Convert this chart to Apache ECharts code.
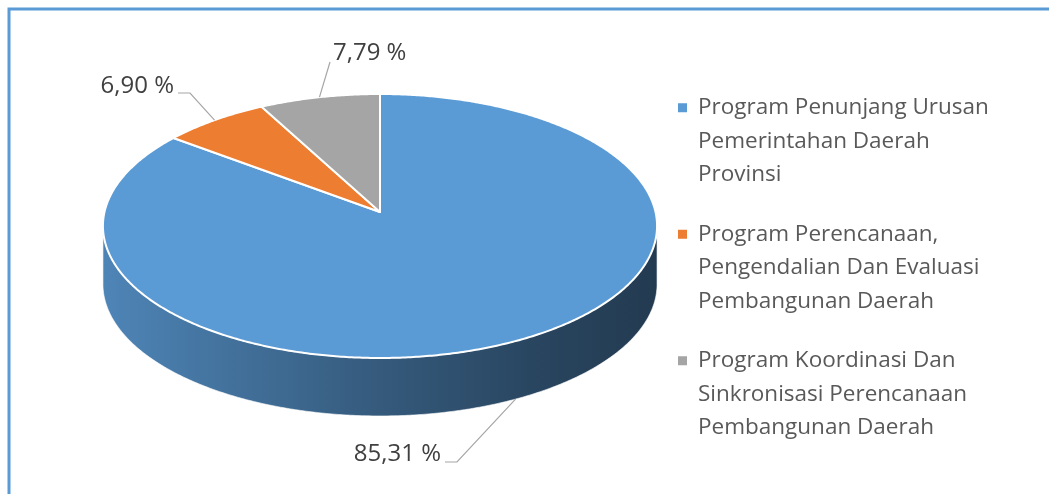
<!DOCTYPE html>
<html><head><meta charset="utf-8">
<script src="https://cdn.jsdelivr.net/npm/echarts/dist/echarts.min.js"></script>
<style>html,body{margin:0;padding:0;background:#fff}#c{width:1049px;height:494px}</style>
</head><body><div id="c"></div>
<script>
// ---- data ----
const categories = [
  'Program Penunjang Urusan\nPemerintahan Daerah\nProvinsi',
  'Program Perencanaan,\nPengendalian Dan Evaluasi\nPembangunan Daerah',
  'Program Koordinasi Dan\nSinkronisasi Perencanaan\nPembangunan Daerah'
];
const values = [85.31, 6.90, 7.79];

// ---- style / layout ----
const colors = ['#5b9bd5', '#ed7d31', '#a5a5a5'];
// perspective pie: centre, half-width, half-depth, perspective factor, wall height
const PIE = {cx: 380, cy: 212, A: 275.5, B: 130.5, k: 0.106, depth: 58};
const labelLayout = [
  {elbow: [457, 462], end: [445, 462], text: [441, 454], align: 'right'},
  {elbow: [190, 93],  end: [178, 93],  text: [174, 86],  align: 'right'},
  {elbow: null,       end: [330, 62],  text: [333, 53],  align: 'left'}
];
const FONT = 'Open Sans';

const total = values.reduce((a, b) => a + b, 0);
const starts = []; let acc = 0; values.forEach(v => { starts.push(acc); acc += v; });

function pt(t, dy) {
  const x = Math.cos(t), y = Math.sin(t), w = 1 + PIE.k * y;
  return [PIE.cx + PIE.A * x / w, PIE.cy - PIE.B * y / w + (dy || 0)];
}
function arc(t1, t2, dy) {
  const n = Math.max(2, Math.ceil(Math.abs(t2 - t1) / (Math.PI / 360)));
  const out = [];
  for (let i = 0; i <= n; i++) out.push(pt(t1 + (t2 - t1) * i / n, dy));
  return out;
}
function shade(hex, k) {
  const c = echarts.color.parse(hex);
  return 'rgb(' + [0, 1, 2].map(i => Math.round(c[i] * (1 - k))).join(',') + ')';
}
function fmt(v) { return v.toFixed(2).replace('.', ',') + ' %'; }

function makeRender(idx) {
  return function (params, api) {
    const v = api.value(0);
    const t1 = Math.PI / 2 - 2 * Math.PI * starts[idx] / total;
    const t2 = t1 - 2 * Math.PI * v / total;
    const color = colors[idx];
    const children = [];
    const a = Math.asin(PIE.k);
    // side wall (visible front part only)
    for (let k = -2; k <= 1; k++) {
      const lo = Math.max(t2, -Math.PI + a + 2 * Math.PI * k);
      const hi = Math.min(t1, -a + 2 * Math.PI * k);
      if (lo < hi) {
        const pts = arc(lo, hi, 0).concat(arc(hi, lo, PIE.depth));
        children.push({
          type: 'polygon', shape: {points: pts},
          style: {
            fill: new echarts.graphic.LinearGradient(0, 0, 1, 0, [
              {offset: 0, color: shade(color, 0.14)},
              {offset: 0.5, color: shade(color, 0.42)},
              {offset: 0.8, color: shade(color, 0.56)},
              {offset: 1, color: shade(color, 0.62)}
            ]),
            stroke: 'rgba(255,255,255,0.6)', lineWidth: 1
          }
        });
      }
    }
    // top face
    const top = [[PIE.cx, PIE.cy]].concat(arc(t1, t2, 0));
    children.push({
      type: 'polygon', shape: {points: top},
      style: {fill: color, stroke: '#ffffff', lineWidth: 2, lineJoin: 'round'}
    });
    // label + leader
    const tm = (t1 + t2) / 2;
    const anchor = pt(tm, Math.sin(tm) < 0 ? PIE.depth : 0);
    const L = labelLayout[idx];
    const lp = [anchor];
    if (L.elbow) lp.push(L.elbow);
    lp.push(L.end);
    children.push({type: 'polyline', shape: {points: lp}, style: {stroke: '#a6a6a6', lineWidth: 1.2, fill: null}});
    children.push({
      type: 'text', x: L.text[0], y: L.text[1],
      style: {text: fmt(v), align: L.align, verticalAlign: 'middle', fill: '#404040', fontSize: 24, fontFamily: FONT}
    });
    return {type: 'group', children: children};
  };
}

const chart = echarts.init(document.getElementById('c'), null, {renderer: 'canvas'});
chart.setOption({
  animation: false,
  color: colors,
  graphic: [{
    type: 'rect', z: -10,
    shape: {x: 9, y: 9, width: 1200, height: 800},
    style: {fill: 'none', stroke: '#5b9bd5', lineWidth: 3}
  }],
  legend: {
    orient: 'vertical', left: 678, top: 91, padding: 0,
    itemWidth: 15, itemHeight: 100, itemGap: 26,
    icon: 'path://M0,12L9,12L9,21L0,21Z M0,0L15,0 M0,100L15,100',
    selectedMode: false,
    data: categories,
    textStyle: {fontFamily: FONT, fontSize: 22.5, color: '#595959', lineHeight: 33.5}
  },
  series: categories.map((name, i) => ({
    type: 'custom', name: name, coordinateSystem: 'none', silent: true,
    itemStyle: {color: colors[i]},
    data: [[values[i]]],
    renderItem: makeRender(i)
  }))
});
</script></body></html>
